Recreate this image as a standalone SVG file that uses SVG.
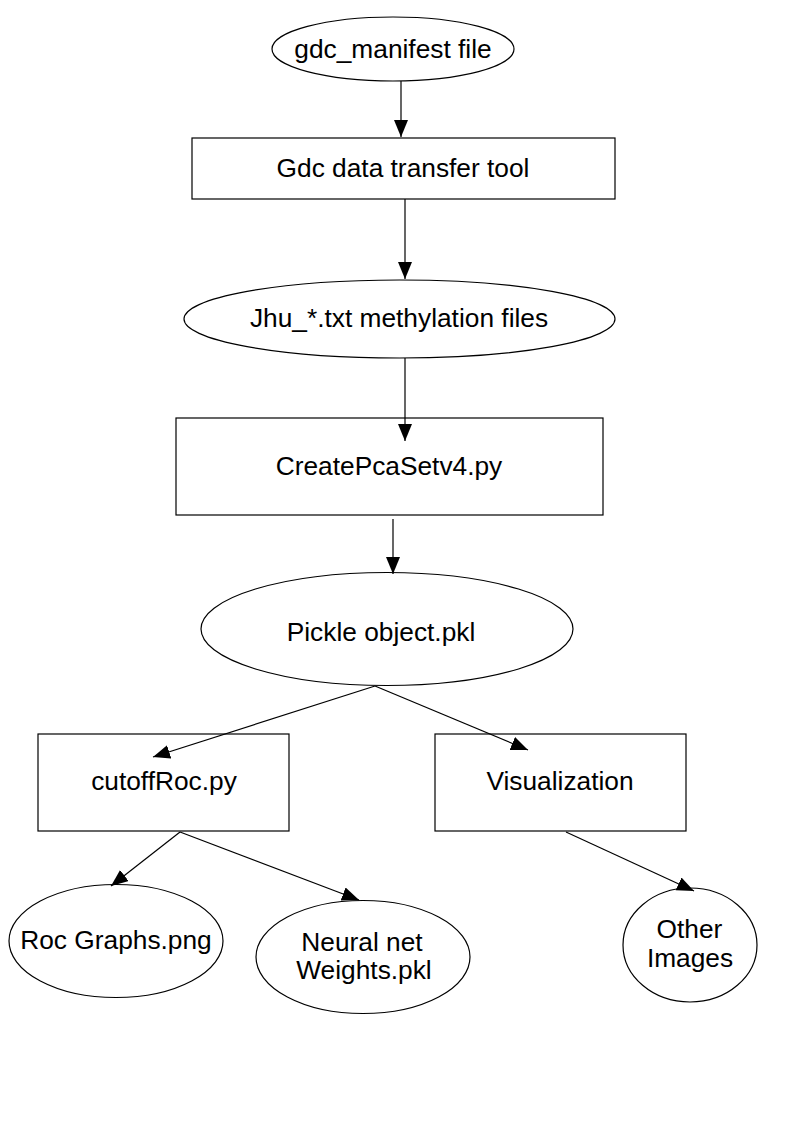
<svg xmlns="http://www.w3.org/2000/svg" width="794" height="1123" viewBox="0 0 794 1123">
<style>
.n{fill:#fff;stroke:#000;stroke-width:1.2}
.t{font-family:"Liberation Sans",Arial,sans-serif;font-size:26.3px;fill:#000;text-anchor:middle}
.c{stroke:#000;stroke-width:1.2;fill:none;marker-end:url(#ah)}
</style>
<defs>
<marker id="ah" markerUnits="userSpaceOnUse" markerWidth="18" markerHeight="16" refX="17" refY="7" orient="auto">
<path d="M0,0 L17,7 L0,14 z" fill="#000"/>
</marker>
</defs>
<rect width="794" height="1123" fill="#fff"/>
<g id="gdc_manifest">
<ellipse class="n" cx="393" cy="49" rx="121" ry="32"/>
<text class="t" x="393" y="58">gdc_manifest file</text>
</g>
<g id="gdc_tool">
<rect class="n" x="192" y="138" width="423" height="61"/>
<text class="t" x="403" y="177">Gdc data transfer tool</text>
</g>
<g id="jhu_files">
<ellipse class="n" cx="399.5" cy="319" rx="215.5" ry="39"/>
<text class="t" x="399" y="327">Jhu_*.txt methylation files</text>
</g>
<g id="createpca">
<rect class="n" x="176" y="418" width="427" height="97"/>
<text class="t" x="389" y="475">CreatePcaSetv4.py</text>
</g>
<g id="pickle">
<ellipse class="n" cx="387" cy="629" rx="186" ry="56.5"/>
<text class="t" x="381" y="641">Pickle object.pkl</text>
</g>
<g id="cutoffroc">
<rect class="n" x="38" y="734" width="251" height="97"/>
<text class="t" x="164" y="790">cutoffRoc.py</text>
</g>
<g id="visualization">
<rect class="n" x="435" y="734" width="251" height="97"/>
<text class="t" x="560" y="790">Visualization</text>
</g>
<g id="roc_graphs">
<ellipse class="n" cx="116" cy="941" rx="107" ry="56.5"/>
<text class="t" x="116" y="949">Roc Graphs.png</text>
</g>
<g id="neural_weights">
<ellipse class="n" cx="363" cy="957" rx="107" ry="56.5"/>
<text class="t" x="362" y="951">Neural net</text>
<text class="t" x="364" y="979">Weights.pkl</text>
</g>
<g id="other_images">
<ellipse class="n" cx="690" cy="945" rx="67" ry="57"/>
<text class="t" x="689.5" y="938">Other</text>
<text class="t" x="690" y="967">Images</text>
</g>
<g id="connectors">
<line class="c" x1="401" y1="81" x2="401" y2="137"/>
<line class="c" x1="405" y1="199" x2="405" y2="279"/>
<line class="c" x1="405" y1="358" x2="405" y2="441"/>
<line class="c" x1="393" y1="519" x2="393" y2="574"/>
<line class="c" x1="375" y1="686" x2="153" y2="757"/>
<line class="c" x1="375" y1="686" x2="528" y2="750"/>
<line class="c" x1="180" y1="832" x2="111" y2="886"/>
<line class="c" x1="180" y1="832" x2="359" y2="900"/>
<line class="c" x1="566" y1="832" x2="694" y2="891"/>
</g>
</svg>
